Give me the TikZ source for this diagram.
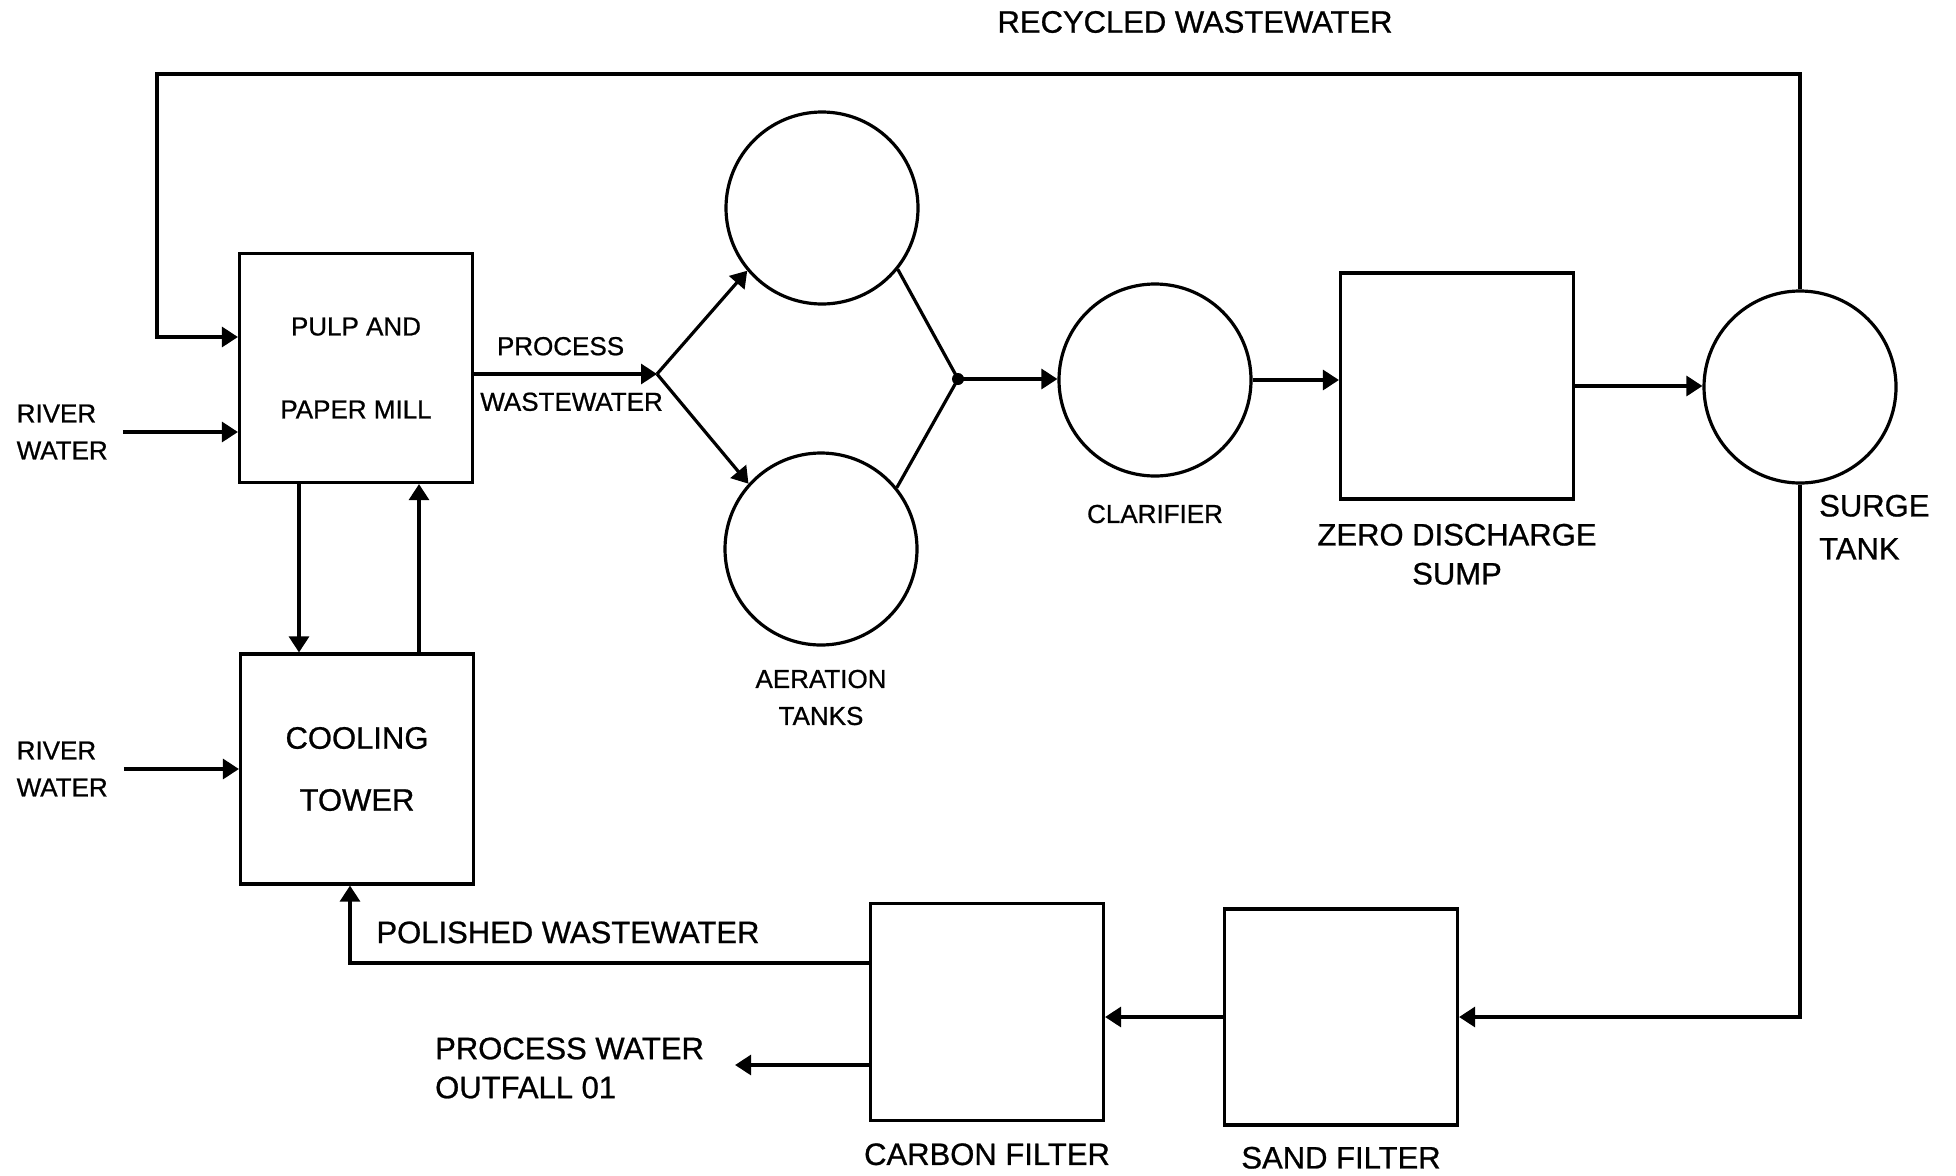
\documentclass[tikz,border=0pt]{standalone}
\usepackage{fontspec}
\setmainfont{Liberation Sans}[FakeBold=0.8]
\usetikzlibrary{arrows.meta,positioning}

\begin{document}
\begin{tikzpicture}[x=1pt, y=-1pt,
  unit/.style={draw, line width=3.2pt, minimum width=233pt, minimum height=229pt, align=center},
  tank/.style={draw, circle, line width=3.2pt, minimum size=192pt, inner sep=0pt},
  junction/.style={circle, fill, inner sep=0pt, minimum size=12pt},
  lbl/.style={inner sep=0pt, align=center, font=\fontsize{26}{37}\selectfont},
  biglbl/.style={inner sep=0pt, align=center, font=\fontsize{31}{39}\selectfont},
  arrow/.style={-{Triangle[length=16pt,width=20pt]}, line width=3.2pt}
]
\useasboundingbox (0,0) rectangle (1956,1175);

\node[unit, font=\fontsize{26}{83}\selectfont] (mill) at (356,368) {PULP AND\\PAPER MILL};
\node[unit, minimum height=230pt, font=\fontsize{31}{62}\selectfont] (cooling) at (357,769) {COOLING\\TOWER};
\node[tank] (aerA) at (822,208) {};
\node[tank] (aerB) at (821,549) {};
\node[tank] (clarifier) at (1155,380) {};
\node[unit, minimum height=226pt] (sump) at (1457,386) {};
\node[tank] (surge) at (1800,387) {};
\node[unit, minimum height=217pt] (carbon) at (987,1012) {};
\node[unit, minimum height=216pt] (sand) at (1341,1017) {};

\coordinate (split) at (657,374);
\node[junction] (merge) at (958,379) {};
\coordinate (recycle) at (157,74);
\coordinate (millrec) at ([yshift=31pt]mill.west);
\coordinate (millin) at ([yshift=-64pt]mill.west);

% labels
\node[lbl, below=23pt of aerB] (aerlbl) {AERATION\\TANKS};
\node[lbl, below=27pt of clarifier] (clarlbl) {CLARIFIER};
\node[biglbl, below=23pt of sump] (sumplbl) {ZERO DISCHARGE\\SUMP};
\node[biglbl, align=left, font=\fontsize{31}{43}\selectfont, below right=10pt and 19pt of surge.south] (surgelbl) {SURGE\\TANK};
\node[biglbl, below=21pt of carbon] (carbonlbl) {CARBON FILTER};
\node[biglbl, below=20pt of sand] (sandlbl) {SAND FILTER};
\node[biglbl] (recyclbl) at (1195,22) {RECYCLED WASTEWATER};
\node[lbl, align=left, left=130pt of millin] (river1) {RIVER\\WATER};
\node[lbl, align=left, left=131pt of cooling.west] (river2) {RIVER\\WATER};
\node[biglbl, align=left, anchor=west] (outfall) at (435,1068) {PROCESS WATER\\OUTFALL 01};

% flows
\draw[arrow, shorten <=15pt] (river1.east) -- (millin);
\draw[arrow, shorten <=16pt] (river2.east) -- (river2.east -| cooling.west);
\draw[arrow] ([xshift=-57pt]mill.south) -- ([xshift=-57pt]mill.south |- cooling.north);
\draw[arrow] ([xshift=62pt]cooling.north) -- ([xshift=62pt]cooling.north |- mill.south);
\draw[arrow] (mill.east |- split) -- (split)
  node[lbl, midway, above=17pt, xshift=-5pt] {PROCESS}
  node[lbl, midway, below=17pt, xshift=6pt] {WASTEWATER};
\draw[arrow] (split) -- (aerA.-140);
\draw[arrow] (split) -- (aerB.138);
\draw[line width=3.2pt] (aerA.-39) -- (merge.center) -- (aerB.39);
\draw[arrow] (merge.center) -- (merge -| clarifier.west);
\draw[arrow] (clarifier.east) -- (clarifier.east -| sump.west);
\draw[arrow] (sump.east) -- (sump.east -| surge.west);
\draw[arrow] (surge.north) |- (recycle) |- (millrec);
\draw[arrow] (surge.south) |- (sand.east);
\draw[arrow] (sand.west) -- (sand.west -| carbon.east);
\draw[arrow] ([yshift=49pt]carbon.west) -| node[biglbl, pos=0.29, above=18pt] {POLISHED WASTEWATER} ([xshift=-7pt]cooling.south);
\draw[arrow, shorten >=31pt] ([yshift=-53pt]carbon.west) -- ([yshift=-53pt]carbon.west -| outfall.east);
\end{tikzpicture}
\end{document}
